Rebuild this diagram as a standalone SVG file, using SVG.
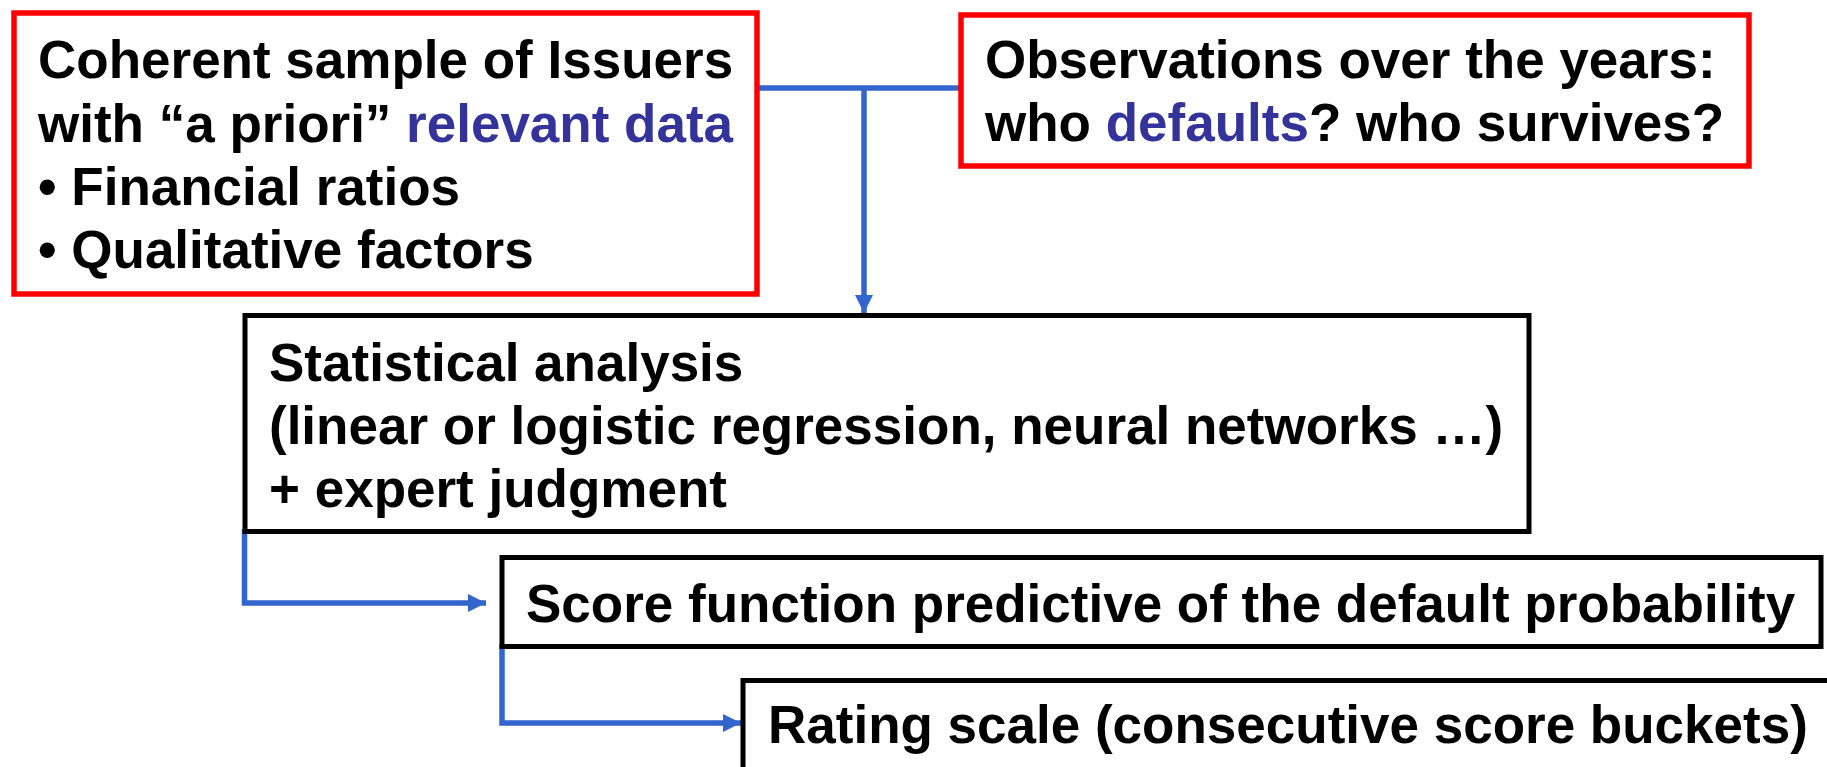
<svg xmlns="http://www.w3.org/2000/svg" width="1827" height="767" viewBox="0 0 1827 767">
<defs>
<style>
.t{font-family:"Liberation Sans",Arial,sans-serif;font-weight:bold;font-size:53px;fill:#000}
.b{fill:#333399}
.red{fill:#fff;stroke:#ff0000;stroke-width:5.5}
.blk{fill:#fff;stroke:#000;stroke-width:5}
.con{fill:none;stroke:#3366cc;stroke-width:5.5}
</style>
<marker id="ah" viewBox="0 0 10 10" refX="10" refY="5" markerWidth="18" markerHeight="18" markerUnits="userSpaceOnUse" orient="auto">
<path d="M0,0 L10,5 L0,10 z" fill="#3366cc"/>
</marker>
</defs>
<rect width="1827" height="767" fill="#fff"/>
<g id="connectors">
<path class="con" d="M757,88 H961"/>
<path class="con" d="M864,88 V313" marker-end="url(#ah)"/>
<path class="con" d="M244.5,529 V603 H486" marker-end="url(#ah)"/>
<path class="con" d="M502,644 V723 H741" marker-end="url(#ah)"/>
</g>
<g id="sample">
<rect class="red" x="14" y="13" width="743" height="281"/>
<text class="t" x="38" y="78">Coherent sample of Issuers</text>
<text class="t" x="38" y="142">with “a priori” <tspan class="b">relevant data</tspan></text>
<text class="t" x="38" y="205">• Financial ratios</text>
<text class="t" x="38" y="268">• Qualitative factors</text>
</g>
<g id="observations">
<rect class="red" x="961" y="15" width="788" height="151"/>
<text class="t" x="985" y="78">Observations over the years:</text>
<text class="t" x="985" y="141">who <tspan class="b">defaults</tspan>? who survives?</text>
</g>
<g id="analysis">
<rect class="blk" x="245" y="315.5" width="1284" height="216"/>
<text class="t" x="269" y="381">Statistical analysis</text>
<text class="t" x="269" y="444">(linear or logistic regression, neural networks …)</text>
<text class="t" x="269" y="507">+ expert judgment</text>
</g>
<g id="score">
<rect class="blk" x="502" y="557.5" width="1319" height="89"/>
<text class="t" x="526" y="622">Score function predictive of the default probability</text>
</g>
<g id="rating">
<rect class="blk" x="743" y="680.5" width="1100" height="100"/>
<text class="t" x="768" y="743">Rating scale (consecutive score buckets)</text>
</g>
</svg>
